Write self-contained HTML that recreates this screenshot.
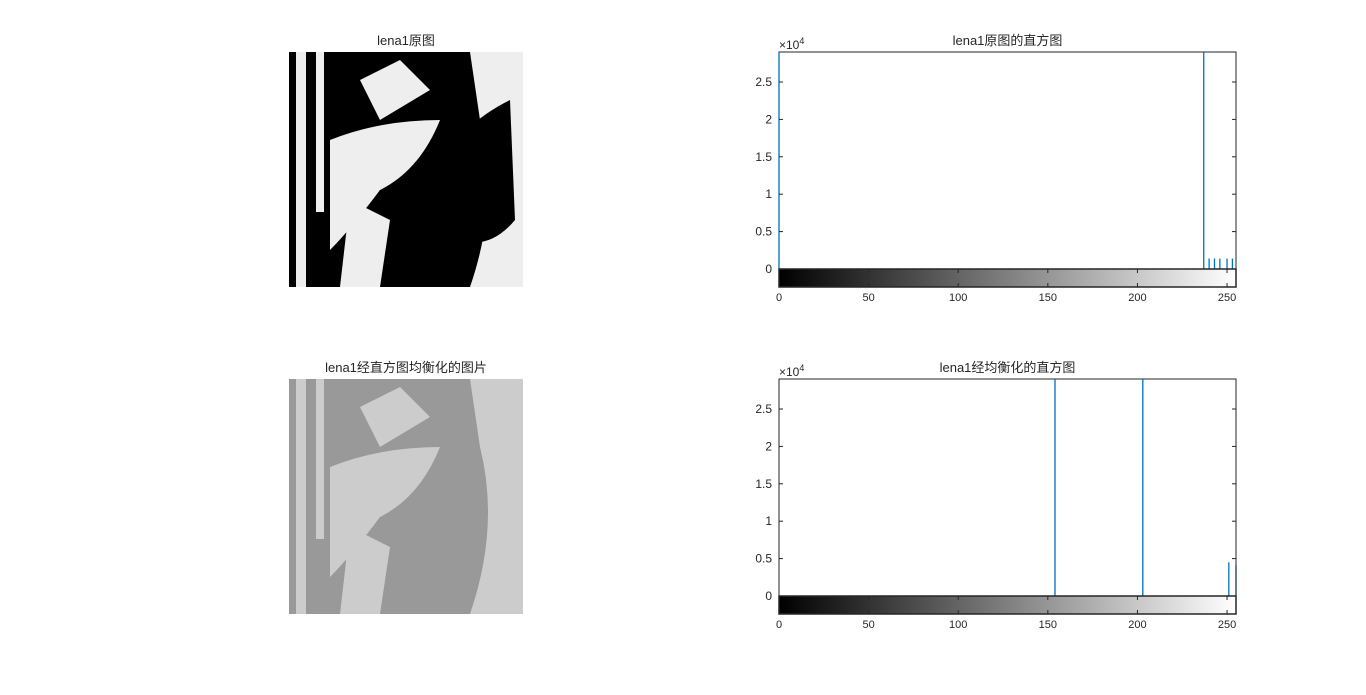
<!DOCTYPE html>
<html><head><meta charset="utf-8"><style>
body{margin:0;background:#fff;width:1366px;height:690px;overflow:hidden;font-family:"Liberation Sans","Noto Sans CJK SC",sans-serif}
</style></head><body>
<svg width="1366" height="690" xmlns="http://www.w3.org/2000/svg" font-family="Liberation Sans, Noto Sans CJK SC, sans-serif">
<defs>
<linearGradient id="gray" x1="0" x2="1" y1="0" y2="0"><stop offset="0" stop-color="#000"/><stop offset="1" stop-color="#fff"/></linearGradient>
</defs>
<g>
<text x="406" y="45" font-size="13" text-anchor="middle" fill="#262626">lena1原图</text>
<rect x="289" y="52" width="234" height="235" fill="#000"/>
<rect x="296" y="52" width="10" height="235" fill="#eee"/>
<rect x="316" y="52" width="8" height="160" fill="#eee"/>
<path d="M470 52 L523 52 L523 287 L470 287 Q500 200 480 120 Z" fill="#eee"/>
<path d="M450 150 Q470 120 510 100 L515 220 Q490 250 460 240Z" fill="#000"/>
<path d="M330 140 Q380 120 440 120 Q420 170 380 190 Q350 230 330 250Z" fill="#eee"/>
<path d="M360 80 L400 60 L430 90 L380 120Z" fill="#eee"/>
<path d="M350 200 L390 220 L380 287 L340 287Z" fill="#eee"/>
</g>
<g>
<text x="406" y="372" font-size="13" text-anchor="middle" fill="#262626">lena1经直方图均衡化的图片</text>
<rect x="289" y="379" width="234" height="235" fill="#999"/>
<rect x="296" y="379" width="10" height="235" fill="#ccc"/>
<rect x="316" y="379" width="8" height="160" fill="#ccc"/>
<path d="M470 379 L523 379 L523 614 L470 614 Q500 527 480 447 Z" fill="#ccc"/>
<path d="M330 467 Q380 447 440 447 Q420 497 380 517 Q350 557 330 577Z" fill="#ccc"/>
<path d="M360 407 L400 387 L430 417 L380 447Z" fill="#ccc"/>
<path d="M350 527 L390 547 L380 614 L340 614Z" fill="#ccc"/>
</g>
<g id="h1"></g>
<g id="h2"></g>
</svg>
<script>
const xTicks=[0,50,100,150,200,250];
const yTicks=[0,0.5,1,1.5,2,2.5];
const bins1=[0,237,240,243,246,250,253];
const counts1=[60000,60000,1400,1400,1400,1400,1400];
const bins2=[154,203,251,255];
const counts2=[60000,60000,4500,4100];
const NS='http://www.w3.org/2000/svg';
function mk(p,t,a){const e=document.createElementNS(NS,t);for(const k in a)e.setAttribute(k,a[k]);p.appendChild(e);return e;}
function hist(g,top,title,bins,counts){
  const L=779,R=1236,base=top+217,cb=18;
  const xs=v=>L+v*(R-L)/255;
  const ys=v=>base-v/10000*74.8;
  let t=mk(g,'text',{x:(L+R)/2,y:top-7,'font-size':13,'text-anchor':'middle',fill:'#262626'});t.textContent=title;
  
  
  let ex=mk(g,'text',{x:L,y:top-3,'font-size':12,fill:'#262626'});ex.textContent='×10';
  
  
  let sup=mk(ex,'tspan',{dy:-5,'font-size':9});sup.textContent='4';
  mk(g,'rect',{x:L,y:top,width:R-L,height:base-top,fill:'#fff',stroke:'#262626','stroke-width':1});
  for(let i=0;i<bins.length;i++){
    const h=Math.max(ys(counts[i]),top);
    const b=mk(g,'line',{x1:xs(bins[i]),x2:xs(bins[i]),y1:base,y2:h,stroke:'#0072bd','stroke-width':1.3});
    
    
  }
  yTicks.forEach(v=>{const y=ys(v*10000);mk(g,'line',{x1:L,x2:L+4,y1:y,y2:y,stroke:'#262626'});mk(g,'line',{x1:R,x2:R-4,y1:y,y2:y,stroke:'#262626'});
    const tx=mk(g,'text',{x:L-7,y:y+4,'font-size':12,'text-anchor':'end',fill:'#262626'});tx.textContent=v;
    
    });
  const c=mk(g,'rect',{x:L,y:base,width:R-L,height:cb,fill:'url(#gray)',stroke:'#262626','stroke-width':1.5});
  
  
  xTicks.forEach(v=>{const x=xs(v);mk(g,'line',{x1:x,x2:x,y1:base+cb,y2:base+cb-4,stroke:'#262626'});mk(g,'line',{x1:x,x2:x,y1:base,y2:base+4,stroke:'#262626'});
    const tx=mk(g,'text',{x:x,y:base+cb+14,'font-size':11,'text-anchor':'middle',fill:'#262626'});tx.textContent=v;
    
    });
  mk(g,'line',{x1:R,x2:R,y1:top,y2:base+cb,stroke:'#262626'});
}
const g1=document.getElementById('h1');


const g2=document.getElementById('h2');


hist(g1,52,'lena1原图的直方图',bins1,counts1);
hist(g2,379,'lena1经均衡化的直方图',bins2,counts2);
</script>
</body></html>
